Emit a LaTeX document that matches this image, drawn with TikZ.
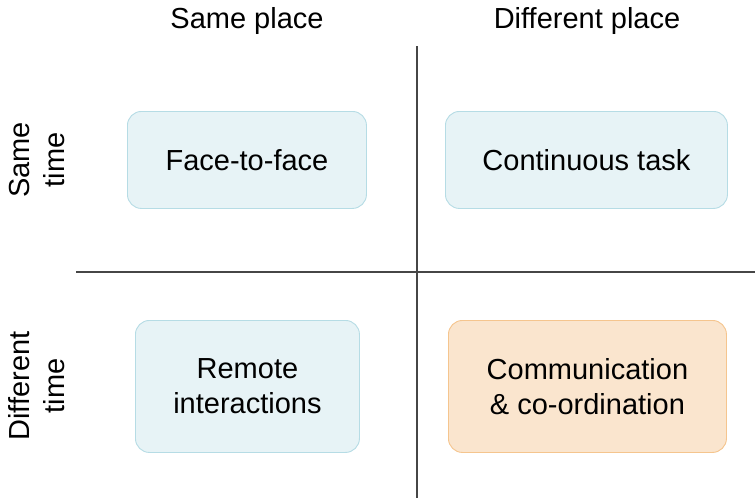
\documentclass[tikz,border=0pt]{standalone}
\usepackage{fontspec}
\setmainfont{Liberation Sans}
\definecolor{bluefill}{RGB}{231,243,246}
\definecolor{bluedraw}{RGB}{182,220,229}
\definecolor{orangefill}{RGB}{250,229,206}
\definecolor{orangedraw}{RGB}{245,197,142}
\definecolor{axis}{RGB}{70,70,70}
\begin{document}
\begin{tikzpicture}[x=1pt,y=-1pt,
  lbl/.style={font=\fontsize{29}{35}\selectfont, align=center, inner sep=0pt},
  cell/.style={lbl, rounded corners=14pt, line width=0.9pt, anchor=north west},
  bluecell/.style={cell, fill=bluefill, draw=bluedraw},
  orangecell/.style={cell, fill=orangefill, draw=orangedraw},
  axisline/.style={draw=axis, line width=1.1pt}]
\useasboundingbox (0,0) rectangle (755,498);
\fill[white] (0,0) rectangle (755,498);
% axes
\coordinate (vtop) at (417,46);
\coordinate (vbot) at (417,498);
\coordinate (hleft) at (76,272);
\coordinate (hright) at (755,272);
\draw[axisline] (vtop) -- (vbot);
\draw[axisline] (hleft) -- (hright);
% headers
\node[lbl] (h1) at (247,21) {Same place};
\node[lbl] (h2) at (587,21) {Different place};
\node[lbl, rotate=90] (r1) at (37,160) {Same\\time};
\node[lbl, rotate=90] (r2) at (37,386) {Different\\time};
% cells
\node[bluecell, minimum width=239pt, minimum height=97pt] (ff) at (127,111) {Face-to-face};
\node[bluecell, minimum width=282pt, minimum height=97pt] (ct) at (445,111) {Continuous task};
\node[bluecell, minimum width=224pt, minimum height=132pt] (ri) at (135,320) {Remote\\interactions};
\node[orangecell, minimum width=278pt, minimum height=132pt] (cc) at (448,320) {Communication\\\& co-ordination};
\end{tikzpicture}
\end{document}
